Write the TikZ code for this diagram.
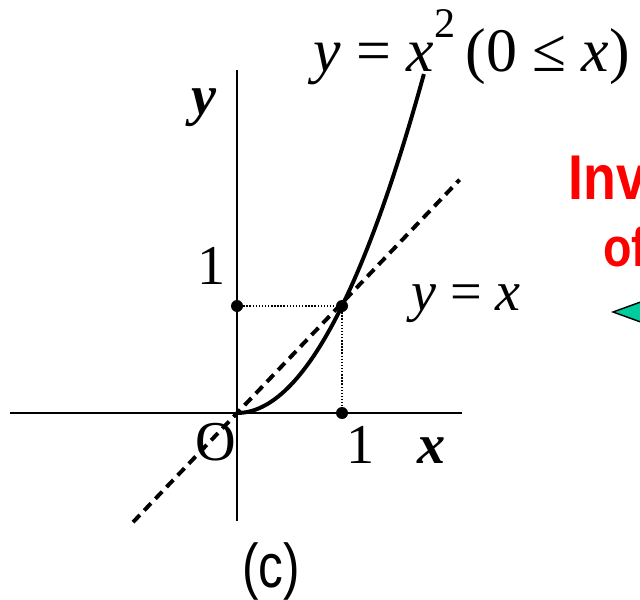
\documentclass[tikz,border=0pt]{standalone}
\usepackage{fontspec}
\setmainfont{Liberation Serif}
\newfontfamily\capfont{Liberation Sans}
\definecolor{invRed}{RGB}{255,0,0}
\definecolor{invTeal}{RGB}{0,204,160}
\usetikzlibrary{positioning}
\newcommand{\supTwo}{\raisebox{0.85cm}{\fontsize{30}{32}\selectfont 2}}

\begin{document}
\begin{tikzpicture}[
    axisLine/.style={draw=black, line width=1.3pt},
    graphCurve/.style={draw=black, line width=2.8pt},
    identLine/.style={draw=black, line width=2.8pt, dash pattern=on 7pt off 4.5pt},
    guideLine/.style={draw=black, line width=1pt, dash pattern=on 1pt off 1.2pt},
    markDot/.style={circle, fill=black, inner sep=0pt, minimum size=0.3cm},
    mathLabel/.style={font=\fontsize{40}{44}\selectfont, inner sep=0pt, anchor=base},
    capLabel/.style={font=\capfont\fontsize{44}{48}\selectfont, inner sep=0pt, anchor=base, xscale=0.8},
    redLabel/.style={font=\capfont\bfseries\fontsize{45}{48}\selectfont, text=invRed, inner sep=0pt, anchor=base west, xscale=0.85}
]
    \useasboundingbox (0,0) rectangle (16,14.975);
    \clip (0,0) rectangle (16,14.975);

    % Axes, the line y = x and the curve y = x^2
    \begin{scope}[shift={(5.925,4.65)}, x=2.625cm, y=2.675cm]
        \coordinate (xStart) at (-2.16,0);
        \coordinate (xEnd) at (2.14,0);
        \coordinate (yStart) at (0,-1.01);
        \coordinate (yEnd) at (0,3.21);
        \coordinate (lineStart) at (-0.99,-1.02);
        \coordinate (lineEnd) at (2.12,2.18);
        \draw[axisLine] (xStart) -- (xEnd);
        \draw[axisLine] (yStart) -- (yEnd);
        \draw[identLine] (lineStart) -- (lineEnd);
        \draw[graphCurve] plot[domain=0:1.78, samples=60, smooth] (\x,{\x*\x});

        % Marked points
        \node[markDot] (dotY) at (0,1) {};
        \node[markDot] (dotP) at (1,1) {};
        \node[markDot] (dotX) at (1,0) {};
        \draw[guideLine] (dotY) -- (dotP);
        \draw[guideLine] (dotP) -- (dotX);
    \end{scope}

    % Labels
    \node[mathLabel] (yLabel) at (5.09,12.1) {\textbf{\textit{y}}};
    \node[mathLabel] (oneY) at (5.3,7.85) {1};
    \node[mathLabel] (oLabel) at (5.4,3.475) {O};
    \node[mathLabel] (oneX) at (9.025,3.4) {1};
    \node[mathLabel] (xLabel) at (10.79,3.4) {\textbf{\textit{x}}};
    \node[mathLabel] (lineLabel) at (11.65,7.225) {\textit{y} = \textit{x}};
    \node[mathLabel, font=\fontsize{44}{48}\selectfont] (curveLabel) at (11.79,13.175)
        {\textit{y} = \textit{x}\supTwo\,(0 ≤ \textit{x})};
    \node[capLabel] (figTag) at (6.775,0.3) {(c)};

    % Cut-off caption and arrow at the right edge
    \node[redLabel] (invText) at (14.2,9.975) {Inv};
    \node[redLabel, font=\capfont\bfseries\fontsize{39}{42}\selectfont] (ofText) at (15.075,8.3) {of};
    \draw[fill=invTeal, line width=1pt] (15.325,7.175) -- (16.5,7.6) -- (16.5,6.75) -- cycle;

\end{tikzpicture}
\end{document}
